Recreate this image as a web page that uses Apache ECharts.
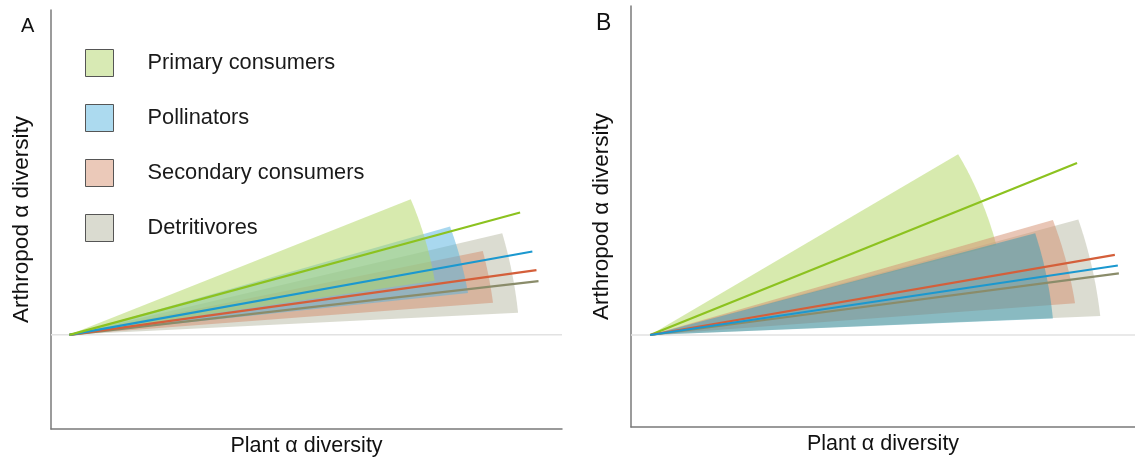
<!DOCTYPE html>
<html>
<head>
<meta charset="utf-8">
<script src="https://cdn.jsdelivr.net/npm/echarts@6/dist/echarts.min.js"></script>
<style>
html,body{margin:0;padding:0;background:#fff;}
#chart{width:1135px;height:462px;}
</style>
</head>
<body>
<div id="chart"></div>
<script>
// Categories (same order in both panels)
const categories = ['Primary consumers', 'Pollinators', 'Secondary consumers', 'Detritivores'];
const panelLabels = ['A', 'B'];
const xTitle = 'Plant α diversity';
const yTitle = 'Arthropod α diversity';

// Panel A: common origin of lines and wedges
const originXA = 3.6;
// Panel A: regression line end points
const lineEndXA = [91.8, 94.2, 95.0, 95.4];
const lineEndYA = [26.0, 17.7, 13.75, 11.4];
// Panel A: wedge (confidence fan) upper and lower corners
const wedgeTopXA = [70.4, 78.1, 84.5, 88.3];
const wedgeTopYA = [28.8, 23.0, 17.8, 21.6];
const wedgeBotXA = [75.1, 81.6, 86.5, 91.4];
const wedgeBotYA = [11.5, 8.9, 6.8, 4.7];

// Panel B
const originXB = 3.8;
const lineEndXB = [88.5, 96.6, 96.0, 96.8];
const lineEndYB = [37.4, 15.1, 17.4, 13.4];
const wedgeTopXB = [64.9, 80.2, 83.7, 88.75];
const wedgeTopYB = [39.3, 22.1, 25.0, 25.1];
const wedgeBotXB = [72.5, 83.7, 88.1, 93.1];
const wedgeBotYB = [19.5, 3.6, 6.9, 4.1];

// Styles
const lineColors = ['#8cc21f', '#1b98cf', '#d45f3a', '#8a8c6a'];
const fillColors = ['rgba(178,214,100,0.52)', 'rgba(84,178,224,0.5)', 'rgba(212,142,110,0.5)', 'rgba(184,186,164,0.5)'];
const fillColorsB = ['rgba(178,214,100,0.52)', 'rgba(62,156,178,0.52)', 'rgba(212,142,110,0.5)', 'rgba(184,186,164,0.5)'];
const legendColors = ['#d8eab4', '#acdaef', '#ebc9b9', '#dadbd0'];
const fontFamily = 'Liberation Sans, Arial, sans-serif';

function wedgeRender(originX) {
  return function (params, api) {
    const o = api.coord([originX, 0]);
    const p1 = api.coord([api.value(0), api.value(1)]);
    const p2 = api.coord([api.value(2), api.value(3)]);
    const a1 = Math.atan2(p1[1] - o[1], p1[0] - o[0]);
    const a2 = Math.atan2(p2[1] - o[1], p2[0] - o[0]);
    const r1 = Math.hypot(p1[0] - o[0], p1[1] - o[1]);
    const r2 = Math.hypot(p2[0] - o[0], p2[1] - o[1]);
    const pts = [o];
    const N = 48;
    for (let i = 0; i <= N; i++) {
      const t = i / N;
      const a = a1 + (a2 - a1) * t;
      const r = r1 + (r2 - r1) * t;
      pts.push([o[0] + r * Math.cos(a), o[1] + r * Math.sin(a)]);
    }
    return { type: 'polygon', shape: { points: pts }, style: { fill: api.visual('color') } };
  };
}

const series = [];
function addPanel(g, originX, ltx, lty, wtx, wty, wbx, wby, fills, order) {
  // baseline
  series.push({
    type: 'line', xAxisIndex: g, yAxisIndex: g, data: [[0, 0], [100, 0]],
    symbol: 'none', silent: true, z: 1,
    lineStyle: { color: '#e2e2e2', width: 1.5 }
  });
  order.forEach(function (i) {
    series.push({
      type: 'custom', name: categories[i], xAxisIndex: g, yAxisIndex: g,
      renderItem: wedgeRender(originX), z: 2,
      itemStyle: { color: fills[i] },
      encode: { x: [0, 2], y: [1, 3] },
      data: [[wtx[i], wty[i], wbx[i], wby[i]]]
    });
  });
  order.forEach(function (i) {
    series.push({
      type: 'line', xAxisIndex: g, yAxisIndex: g, symbol: 'none', z: 5,
      lineStyle: { color: lineColors[i], width: 2.2 },
      data: [[originX, 0], [ltx[i], lty[i]]]
    });
  });
}
addPanel(0, originXA, lineEndXA, lineEndYA, wedgeTopXA, wedgeTopYA, wedgeBotXA, wedgeBotYA, fillColors, [3, 2, 1, 0]);
addPanel(1, originXB, lineEndXB, lineEndYB, wedgeTopXB, wedgeTopYB, wedgeBotXB, wedgeBotYB, fillColorsB, [0, 3, 2, 1]);

function xAx(g) {
  return {
    gridIndex: g, type: 'value', min: 0, max: 100,
    axisLine: { show: true, onZero: false, lineStyle: { color: '#7a7a7a', width: 1.5 } },
    axisTick: { show: false }, axisLabel: { show: false }, splitLine: { show: false },
    name: xTitle, nameLocation: 'middle', nameGap: 6,
    nameTextStyle: { fontSize: 21.5, color: '#111', fontFamily: fontFamily }
  };
}
function yAx(g, max) {
  return {
    gridIndex: g, type: 'value', min: -20, max: max, position: 'left',
    axisLine: { show: true, onZero: false, lineStyle: { color: '#7a7a7a', width: 1.5 } },
    axisTick: { show: false }, axisLabel: { show: false }, splitLine: { show: false },
    name: yTitle, nameLocation: 'middle', nameGap: 18,
    nameTextStyle: { fontSize: 22.5, color: '#111', fontFamily: fontFamily }
  };
}

const chart = echarts.init(document.getElementById('chart'), null, { renderer: 'canvas' });
chart.setOption({
  animation: false,
  backgroundColor: '#fff',
  grid: [
    { left: 51, top: 10, width: 511, height: 422 },
    { left: 631, top: 6, width: 504, height: 421 }
  ],
  xAxis: [xAx(0), xAx(1)],
  yAxis: [yAx(0, 69), yAx(1, 71.5)],
  legend: {
    left: 85, top: 49, orient: 'vertical', padding: 0,
    itemWidth: 28, itemHeight: 27, itemGap: 27, icon: 'rect', selectedMode: false,
    data: categories.map(function (n, i) {
      return { name: n, itemStyle: { color: legendColors[i], borderColor: '#555', borderWidth: 1 } };
    }),
    textStyle: { fontSize: 21.8, color: '#1a1a1a', fontFamily: fontFamily, padding: [0, 0, 0, 29] }
  },
  graphic: [
    { type: 'text', left: 21, top: 16, style: { text: panelLabels[0], fontSize: 20, fill: '#111', fontFamily: fontFamily } },
    { type: 'text', left: 596, top: 12, style: { text: panelLabels[1], fontSize: 23, fill: '#111', fontFamily: fontFamily } }
  ],
  series: series
});
</script>
</body>
</html>
